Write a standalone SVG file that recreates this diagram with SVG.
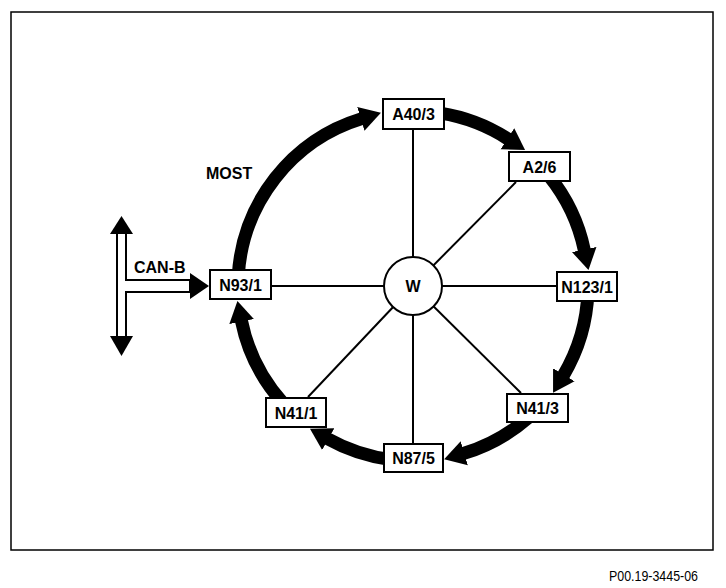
<svg xmlns="http://www.w3.org/2000/svg" width="726" height="588" viewBox="0 0 726 588">
<style>
.box{fill:#fff;stroke:#000;stroke-width:2}
.lbl{font-family:"Liberation Sans",Arial,sans-serif;font-weight:bold;font-size:16px;text-anchor:middle;fill:#000}
.spoke{stroke:#000;stroke-width:2;fill:none}
.ring{stroke:#000;stroke-width:13;fill:none;marker-end:url(#ah)}
.free{font-family:"Liberation Sans",Arial,sans-serif;font-weight:bold;font-size:16px;fill:#000}
</style>
<defs>
<marker id="ah" markerUnits="userSpaceOnUse" markerWidth="24" markerHeight="28" viewBox="0 -14 24 28" refX="1" refY="0" orient="auto">
<path d="M0,-12.5 L21,0 L0,12.5 Z" fill="#000"/>
</marker>
</defs>
<rect x="0" y="0" width="726" height="588" fill="#fff"/>
<rect x="11" y="12" width="702" height="538" fill="none" stroke="#000" stroke-width="1.5"/>
<g id="connectors">
<line class="spoke" x1="413" y1="286" x2="413" y2="130"/>
<line class="spoke" x1="413" y1="286" x2="516" y2="182"/>
<line class="spoke" x1="413" y1="286" x2="556" y2="286"/>
<line class="spoke" x1="413" y1="286" x2="521" y2="393"/>
<line class="spoke" x1="413" y1="286" x2="413" y2="443"/>
<line class="spoke" x1="413" y1="286" x2="308" y2="397"/>
<line class="spoke" x1="413" y1="286" x2="271" y2="286"/>
<path class="ring" d="M238.2,276.8 A175,175 0 0 1 361.8,118.6"/>
<path class="ring" d="M440.4,113.2 A175,175 0 0 1 508.3,139.2"/>
<path class="ring" d="M549.0,175.9 A175,175 0 0 1 584.4,250.5"/>
<path class="ring" d="M587.9,292.1 A175,175 0 0 1 563.3,375.6"/>
<path class="ring" d="M527.8,418.1 A175,175 0 0 1 463.3,453.6"/>
<path class="ring" d="M391.7,459.7 A175,175 0 0 1 327.4,438.6"/>
<path class="ring" d="M283.0,403.1 A175,175 0 0 1 241.4,320.6"/>
<g id="canb">
<polygon points="117,233 126,233 126,280 190,280 190,292 126,292 126,337 117,337" fill="#fff" stroke="#000" stroke-width="2"/>
<polygon points="121.5,216 110,234 133,234" fill="#000"/>
<polygon points="121.5,356 110,336 133,336" fill="#000"/>
<polygon points="209,286 190,273 190,299" fill="#000"/>
</g>
</g>
<text class="free" x="206" y="179">MOST</text>
<text class="free" x="134" y="273">CAN-B</text>
<g id="W">
<circle cx="413" cy="286" r="29" fill="#fff" stroke="#000" stroke-width="2"/>
<text class="lbl" x="413" y="292">W</text>
</g>
<g id="A40_3"><rect class="box" x="383" y="99" width="61" height="30"/><text class="lbl" x="413.5" y="120">A40/3</text></g>
<g id="A2_6"><rect class="box" x="509" y="152" width="61" height="29"/><text class="lbl" x="539.5" y="172.5">A2/6</text></g>
<g id="N123_1"><rect class="box" x="557" y="272" width="60" height="29"/><text class="lbl" x="587" y="292.5">N123/1</text></g>
<g id="N41_3"><rect class="box" x="507" y="394" width="61" height="28"/><text class="lbl" x="537.5" y="414">N41/3</text></g>
<g id="N87_5"><rect class="box" x="384" y="444" width="59" height="28"/><text class="lbl" x="413.5" y="464">N87/5</text></g>
<g id="N41_1"><rect class="box" x="266" y="398" width="60" height="29"/><text class="lbl" x="296" y="418.5">N41/1</text></g>
<g id="N93_1"><rect class="box" x="210" y="270" width="61" height="29"/><text class="lbl" x="240.5" y="290.5">N93/1</text></g>
<text x="609" y="580.5" font-family="'Liberation Sans',Arial,sans-serif" font-size="15" textLength="89" lengthAdjust="spacingAndGlyphs" fill="#000">P00.19-3445-06</text>
</svg>
